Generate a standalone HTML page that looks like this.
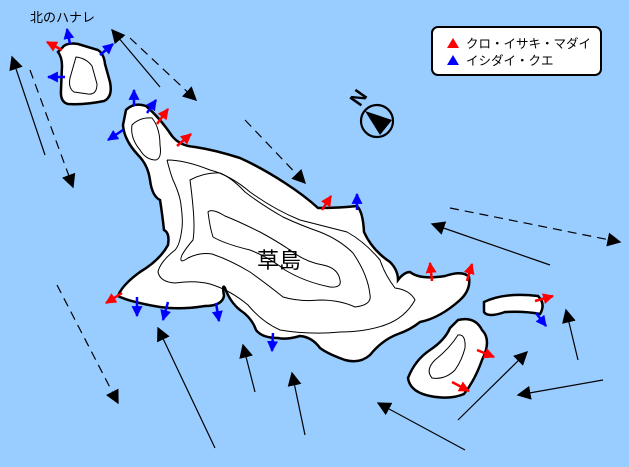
<!DOCTYPE html>
<html><head><meta charset="utf-8"><style>
html,body{margin:0;padding:0;background:#99ccff;}
svg{display:block;}
text{font-family:"Liberation Sans","Noto Sans CJK JP",sans-serif;}
</style></head><body>
<svg width="629" height="467" viewBox="0 0 629 467" xmlns="http://www.w3.org/2000/svg">
<defs>
<marker id="bk" viewBox="0 0 10 10" refX="9" refY="5" markerWidth="14" markerHeight="14" markerUnits="userSpaceOnUse" orient="auto"><path d="M0,0L10,5L0,10z" fill="#000"/></marker>
<marker id="rd" viewBox="0 0 10 10" refX="9" refY="5" markerWidth="11" markerHeight="11" markerUnits="userSpaceOnUse" orient="auto"><path d="M0,0L10,5L0,10z" fill="#f00"/></marker>
<marker id="bl" viewBox="0 0 10 10" refX="9" refY="5" markerWidth="11" markerHeight="11" markerUnits="userSpaceOnUse" orient="auto"><path d="M0,0L10,5L0,10z" fill="#00f"/></marker>
</defs>
<rect width="629" height="467" fill="#99ccff"/>
<!-- north islet -->
<path d="M62,48 Q66,42 78,44 L98,50 Q104,54 105,64 L110,82 Q113,97 104,101 Q85,105 68,104 Q60,102 61,90 L62,66 Q62,57 58,52 Z" fill="#fff" stroke="#000" stroke-width="2.5"/>
<path d="M76,57 Q86,58 92,66 L97,84 Q97,95 88,94 L74,92 Q68,88 70,78 Z" fill="none" stroke="#000" stroke-width="1"/>
<!-- main island -->
<path d="M126,110 Q134,102 146,106 Q160,118 172,136 Q180,146 195,147 Q215,150 240,158 Q262,168 285,183 Q305,196 318,208 Q340,208 357,206 Q363,212 364,232 Q372,250 390,262 Q398,270 398,280 Q404,272 410,272 Q420,280 445,276 Q463,270 469,277 Q471,290 460,300 Q440,318 420,322 Q410,330 398,334 Q382,340 370,355 Q360,364 345,360 Q328,354 320,348 Q312,337 300,336 Q286,340 278,338 Q262,338 256,330 Q252,318 240,310 Q230,302 225,288 Q222,283 224,296 Q222,306 205,306 Q180,310 160,307 Q130,302 118,296 Q122,285 140,272 Q160,260 168,245 Q170,233 164,230 Q162,212 160,200 Q152,196 150,180 Q148,165 138,155 Q124,140 123,125 Z" fill="#fff" stroke="#000" stroke-width="2.5"/>
<path d="M132,125 Q140,117 152,118 Q160,128 160,145 Q162,158 156,160 Q146,160 140,150 Q130,138 132,125 Z" fill="none" stroke="#000" stroke-width="1"/>
<!-- contour A -->
<path d="M167,160 Q170,172 173,180 Q180,195 181,205 Q183,220 182,228 Q180,245 175,250 Q160,262 158,272 Q160,282 175,283 Q195,280 210,284 Q230,290 248,305 Q262,322 280,330 Q310,335 340,332 Q365,332 385,325 Q405,318 415,300 Q410,290 395,288 Q385,275 380,260 Q365,242 347,232 Q320,225 300,220 Q275,210 250,192 Q230,175 210,170 Q185,160 167,160" fill="none" stroke="#000" stroke-width="1"/>
<!-- contour B -->
<path d="M190,180 Q192,195 193,207 Q195,228 193,240 Q186,248 182,255 Q178,265 188,258 Q200,252 212,254 Q230,260 250,272 Q268,285 283,297 Q300,302 320,300 Q340,300 355,307 Q372,305 370,295 Q368,275 353,253 Q340,240 320,232 Q300,225 283,217 Q262,205 245,192 Q232,178 220,173 Q205,172 190,180 Z" fill="none" stroke="#000" stroke-width="1"/>
<!-- contour C -->
<path d="M208,212 Q210,228 213,237 Q225,244 250,250 Q270,258 285,270 Q305,282 330,287 Q342,288 340,280 Q338,268 323,265 Q305,262 290,250 Q275,240 260,232 Q240,222 225,216 Q212,208 208,212 Z" fill="none" stroke="#000" stroke-width="1"/>
<!-- small islets -->
<path d="M484,302 Q505,292 538,296 Q546,304 540,314 Q525,311 505,312 Q488,318 484,312 Z" fill="#fff" stroke="#000" stroke-width="2.5"/>
<path d="M458,320 Q475,316 482,330 Q492,340 482,360 Q475,380 464,394 Q450,400 430,396 Q410,392 408,378 Q415,360 430,350 Q445,340 450,328 Z" fill="#fff" stroke="#000" stroke-width="2.5"/>
<path d="M458,335 Q466,334 465,348 Q462,360 455,370 Q445,380 432,378 Q425,370 435,360 Q450,348 458,335 Z" fill="none" stroke="#000" stroke-width="1"/>
<!-- current arrows -->
<g stroke="#000" stroke-width="1.2" fill="none" marker-end="url(#bk)">
<line x1="45" y1="155" x2="12" y2="57"/>
<line x1="30" y1="70" x2="73" y2="187" stroke-dasharray="9,6"/>
<line x1="160" y1="87" x2="112" y2="30"/>
<line x1="130" y1="38" x2="196" y2="100" stroke-dasharray="9,6"/>
<line x1="245" y1="120" x2="305" y2="183" stroke-dasharray="9,6"/>
<line x1="450" y1="208" x2="620" y2="242" stroke-dasharray="9,6"/>
<line x1="550" y1="265" x2="432" y2="224"/>
<line x1="57" y1="285" x2="118" y2="403" stroke-dasharray="9,6"/>
<line x1="215" y1="448" x2="158" y2="328"/>
<line x1="255" y1="392" x2="243" y2="345"/>
<line x1="305" y1="435" x2="292" y2="373"/>
<line x1="578" y1="360" x2="566" y2="310"/>
<line x1="458" y1="420" x2="527" y2="352"/>
<line x1="603" y1="380" x2="518" y2="395"/>
<line x1="465" y1="450" x2="378" y2="403"/>
</g>
<!-- fish arrows -->
<g stroke="#00f" stroke-width="2.5" marker-end="url(#bl)">
<line x1="70" y1="44" x2="67" y2="29"/>
<line x1="100" y1="55" x2="113" y2="44"/>
<line x1="65" y1="77" x2="48" y2="77"/>
<line x1="134" y1="106" x2="134" y2="90"/>
<line x1="147" y1="113" x2="156" y2="100"/>
<line x1="123" y1="130" x2="108" y2="140"/>
<line x1="357" y1="210" x2="357" y2="194"/>
<line x1="137" y1="297" x2="137" y2="316"/>
<line x1="168" y1="302" x2="163" y2="320"/>
<line x1="216" y1="303" x2="219" y2="321"/>
<line x1="273" y1="333" x2="272" y2="351"/>
<line x1="536" y1="313" x2="546" y2="326"/>
</g>
<g stroke="#f00" stroke-width="2.5" marker-end="url(#rd)">
<line x1="62" y1="50" x2="47" y2="42"/>
<line x1="157" y1="124" x2="168" y2="109"/>
<line x1="177" y1="146" x2="191" y2="134"/>
<line x1="322" y1="210" x2="331" y2="196"/>
<line x1="432" y1="281" x2="430" y2="263"/>
<line x1="467" y1="281" x2="472" y2="264"/>
<line x1="122" y1="293" x2="106" y2="303"/>
<line x1="535" y1="301" x2="553" y2="296"/>
<line x1="477" y1="350" x2="494" y2="357"/>
<line x1="452" y1="382" x2="469" y2="391"/>
</g>
<!-- compass -->
<circle cx="377" cy="121" r="16" fill="none" stroke="#000" stroke-width="2.2"/>
<path d="M365,111 L392,120 L380,135 Z" fill="#000"/>
<text x="355" y="110" font-size="20" font-weight="bold" transform="rotate(-55 355 104)">N</text>
<!-- legend -->
<rect x="432" y="27" width="169" height="48" rx="6" fill="#fff" stroke="#000" stroke-width="2"/>
<path d="M447,48 L453,38 L459,48 Z" fill="#f00"/>
<path d="M447,65 L453,55 L459,65 Z" fill="#00f"/>
<text x="466" y="48" font-size="12.5">クロ・イサキ・マダイ</text>
<text x="466" y="65" font-size="12.5">イシダイ・クエ</text>
<!-- labels -->
<text x="30" y="22" font-size="13">北のハナレ</text>
<text x="257" y="268" font-size="22">草島</text>
</svg>
</body></html>
